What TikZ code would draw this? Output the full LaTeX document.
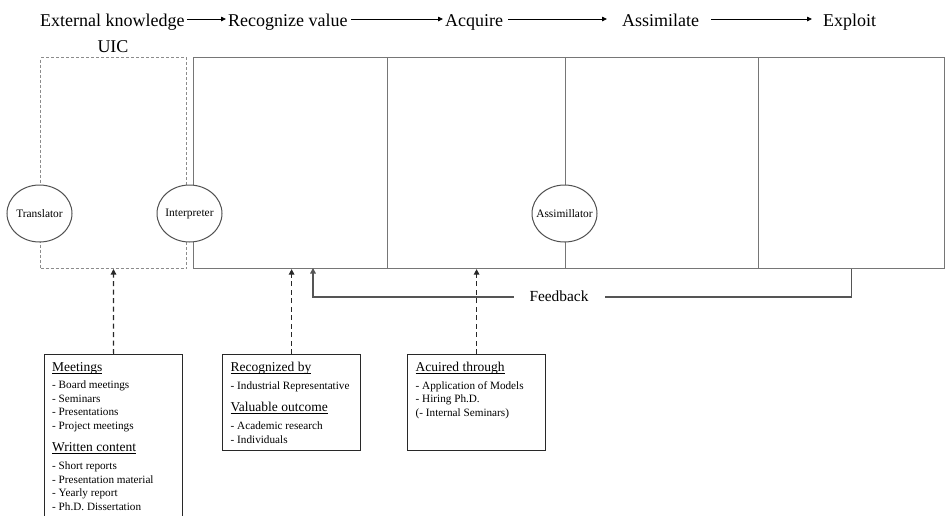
\documentclass[tikz,border=0pt]{standalone}
\usepackage{fontspec}
\setmainfont{Liberation Serif}
\usetikzlibrary{arrows.meta,shapes.geometric}

\definecolor{cellline}{RGB}{118,118,118}
\definecolor{uicline}{RGB}{140,140,140}
\definecolor{probeline}{RGB}{40,40,40}
\definecolor{fbline}{RGB}{85,85,85}
\definecolor{roleline}{RGB}{80,80,80}

% underlined heading inside the list boxes
\newcommand\listhead[1]{{\fontsize{13.5}{16}\selectfont
  \setbox0\hbox{#1}\rlap{\rule[-2pt]{\wd0}{0.8pt}}\box0}}
% role label that does not widen its ellipse
\newcommand\rolename[1]{\makebox[0pt]{#1}}

\tikzset{
  stage/.style={font=\fontsize{18}{21}\selectfont, inner sep=0},
  flow/.style={draw=black, line width=0.8pt, -{Triangle[length=5pt,width=4.5pt]}},
  cell/.style={draw=cellline, line width=1.1pt, inner sep=0, minimum height=211pt, anchor=north west},
  uicframe/.style={draw=uicline, line width=1pt, dash pattern=on 3pt off 2pt,
    inner sep=0, minimum height=211pt, anchor=north west},
  role/.style={ellipse, draw=roleline, line width=1pt, fill=white, inner sep=0,
    minimum width=65pt, minimum height=57pt, font=\fontsize{11.4}{13}\selectfont},
  listbox/.style={draw=probeline, line width=1.2pt, inner sep=0, minimum width=138pt, anchor=north west},
  listtext/.style={align=left, inner sep=0, anchor=north west, font=\fontsize{11.2}{13.5}\selectfont},
  probe/.style={draw=probeline, line width=1.2pt, dash pattern=on 5pt off 3.5pt,
    -{Triangle[length=5.5pt,width=5.5pt]}},
  fb/.style={draw=fbline, line width=1.6pt, -{Triangle[length=5.5pt,width=5.5pt]}},
  fblabel/.style={fill=white, inner xsep=16pt, inner ysep=2pt, font=\fontsize{15.4}{18}\selectfont},
}

\begin{document}
\begin{tikzpicture}[x=1pt,y=-1pt]
\useasboundingbox (0,0) rectangle (945,515);
\clip (0,0) rectangle (945,515);

% absorptive capacity stages
\node[stage, anchor=base west] (ext)  at (40,26)  {External knowledge};
\node[stage, anchor=base west] (rec)  at (228,26) {Recognize value};
\node[stage, anchor=base west] (acq)  at (445,26) {Acquire};
\node[stage, anchor=base west] (ass)  at (622,26) {Assimilate};
\node[stage, anchor=base west] (expl) at (823,26) {Exploit};

\draw[flow, shorten <=2pt, shorten >=2pt]
  ([yshift=7pt]ext.base east) -- ([yshift=7pt]rec.base west);
\draw[flow, shorten <=3.5pt, shorten >=2pt]
  ([yshift=7pt]rec.base east) -- ([yshift=7pt]acq.base west);
\draw[flow, shorten <=5pt, shorten >=15pt]
  ([yshift=7pt]acq.base east) -- ([yshift=7pt]ass.base west);
\draw[flow, shorten <=12pt, shorten >=11pt]
  ([yshift=7pt]ass.base east) -- ([yshift=7pt]expl.base west);

\node[stage, anchor=base] (uic) at (113,52.5) {UIC};

% university-industry collaboration frame and the stage cells
\node[uicframe, minimum width=146pt] (uicbox) at (40,57) {};
\node[cell, minimum width=194pt]   (c1) at (193,57)   {};
\node[cell, minimum width=177.5pt] (c2) at (387,57)   {};
\node[cell, minimum width=193.5pt] (c3) at (564.5,57) {};
\node[cell, minimum width=186pt]   (c4) at (758,57)   {};

% roles
\node[role] (trans)  at (39.5,213.5)  {\rolename{Translator}};
\node[role] (interp) at (189.5,213.5) {\rolename{Interpreter}};
\node[role] (assim)  at (564.5,213.5) {\rolename{Assimillator}};

% feedback loop
\coordinate (fbin) at (313,268);
\draw[fb] (c4.south) -- ++(0,28) -| (fbin);
\node[fblabel] (fbl) at (559,296) {Feedback};

% channel boxes
\node[listbox, minimum height=200pt] (meet) at (44,354) {};
\node[listtext] (meettxt) at (52,362.3) {%
  \listhead{Meetings}\\[4pt]
  - Board meetings\\
  - Seminars\\
  - Presentations\\
  - Project meetings\\[8.5pt]
  \listhead{Written content}\\[5pt]
  - Short reports\\
  - Presentation material\\
  - Yearly report\\
  - Ph.D. Dissertation};

\node[listbox, minimum height=96pt] (recog) at (222,354) {};
\node[listtext] (recogtxt) at (230.5,362.3) {%
  \listhead{Recognized by}\\[4pt]
  - Industrial Representative\\[9pt]
  \listhead{Valuable outcome}\\[4.5pt]
  - Academic research\\
  - Individuals};

\node[listbox, minimum height=96pt] (acqbox) at (407,354) {};
\node[listtext] (acqtxt) at (415.5,362.3) {%
  \listhead{Acuired through}\\[4pt]
  - Application of Models\\
  - Hiring Ph.D.\\
  (- Internal Seminars)};

% links from channels to the model
\draw[probe] (meet.north) -- (uicbox.south);
\draw[probe] (recog.north) -- (recog.north |- c1.south);
\draw[probe] (acqbox.north) -- (acqbox.north |- c2.south);
\end{tikzpicture}
\end{document}
